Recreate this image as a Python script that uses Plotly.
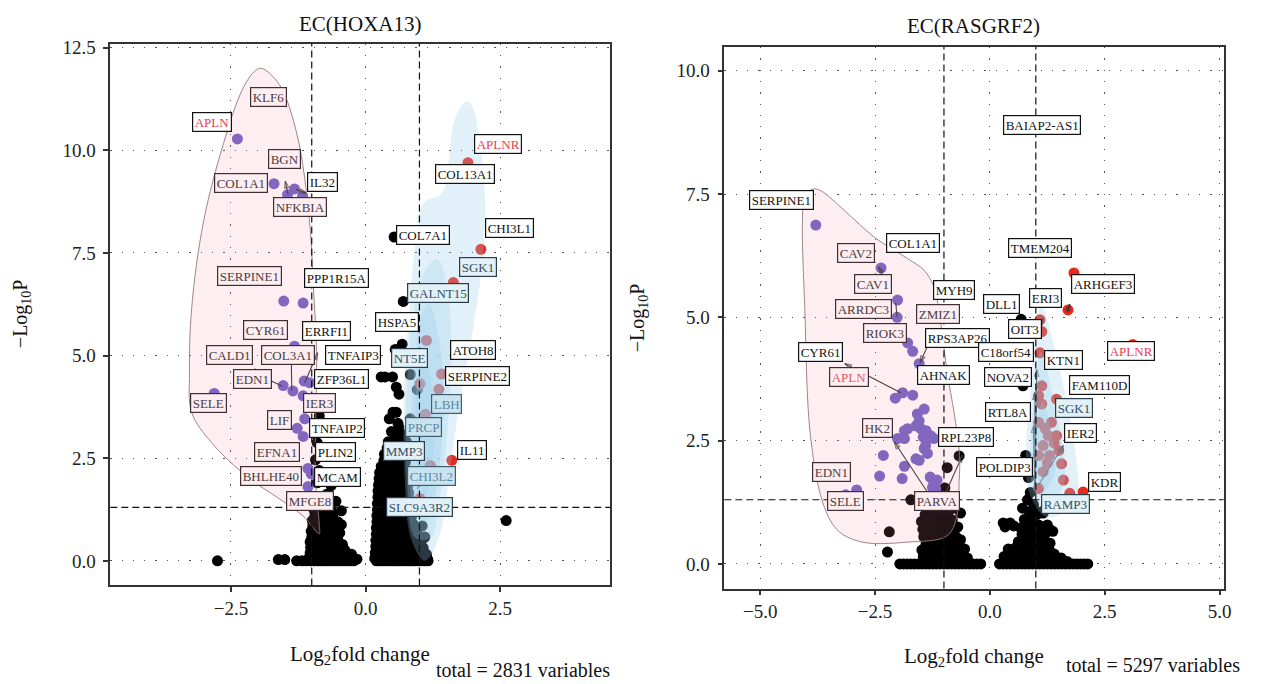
import plotly.graph_objects as go

# ---------------- DATA : panel 1  EC(HOXA13) ----------------
p1_title = "EC(HOXA13)"
p1_total = 2831
p1_x_ticks = [-2.5, 0.0, 2.5]
p1_y_ticks = [0.0, 2.5, 5.0, 7.5, 10.0, 12.5]

p1_down_x = [-2.38, -1.80, -1.50, -1.70, -1.45, -1.32, -1.17, -1.52, -1.16, -1.32, -2.81, -1.53, -1.35, -1.14,
             -1.04, -1.16, -1.13, -1.27, -1.16, -1.07, -1.01, -1.07]
p1_down_y = [10.28, 11.25, 9.75, 9.19, 8.92, 9.06, 8.89, 6.33, 6.28, 5.23, 4.08, 4.27, 4.14, 4.38,
             4.34, 4.02, 3.46, 3.23, 3.03, 2.25, 2.12, 1.81]

p1_up_x = [1.90, 2.14, 1.63, 1.13, 1.41, 1.01, 1.36, 1.11, 1.60, 1.20, 1.01]
p1_up_y = [9.70, 7.59, 6.78, 5.37, 4.55, 4.32, 4.18, 3.57, 2.45, 2.32, 1.52]

p1_ns_x = [-2.75, -1.62, -1.50, -1.28, -1.18, -1.10, -1.02, -0.95, -0.88, -0.82, -0.76, -0.70, -0.64, -0.58,
           -0.52, -0.46, -0.40, -0.34, -0.28, -0.22, 0.20, 0.26, 0.32, 0.38, 0.44, 0.50, 0.56, 0.62, 0.68,
           0.74, 0.80, 0.86, 0.92, 0.98, 1.04, 1.10, 1.16,
           -1.05, -0.98, -0.91, -0.84, -0.77, -0.71, -0.63, -0.56, -0.49, -0.42, -0.35, -0.28, -0.21, -0.16,
           -1.03, -0.95, -0.87, -0.80, -0.72, -0.64, -0.57, -0.49, -0.41, -0.33, -0.26,
           -1.02, -0.94, -0.86, -0.79, -0.70, -0.62, -0.55, -0.46, -0.39,
           -1.03, -0.96, -0.88, -0.81, -0.73, -0.65, -0.57, -0.50, -0.43,
           -1.00, -0.93, -0.84, -0.76, -0.69, -0.60, -0.52,
           -1.01, -0.93, -0.85, -0.78, -0.70, -0.62, -0.55, -0.48,
           -0.98, -0.90, -0.83, -0.74, -0.66, -0.58,
           -0.99, -0.91, -0.83, -0.75, -0.67, -0.59, -0.51,
           -0.94, -0.86, -0.77, -0.70, -0.61,
           -0.96, -0.88, -0.80, -0.72, -0.64,
           -0.92, -0.82, -0.72, -0.62, -0.52, -0.45,
           -0.90, -0.78, -0.66, -0.55, -0.84, -0.72, -0.64, -0.90, -0.86, -0.93, -0.90, -0.86, -0.80, -0.95,
           -0.45,
           0.17, 0.24, 0.31, 0.38, 0.45, 0.52, 0.59, 0.66, 0.73, 0.80, 0.87, 0.94, 1.01, 1.08, 1.15,
           0.18, 0.26, 0.34, 0.42, 0.50, 0.58, 0.66, 0.74, 0.82, 0.90, 0.98, 1.06, 1.13,
           0.19, 0.27, 0.35, 0.43, 0.51, 0.59, 0.67, 0.75, 0.83, 0.91, 0.99, 1.07,
           0.19, 0.27, 0.35, 0.43, 0.51, 0.59, 0.67, 0.75, 0.83, 0.93, 1.03,
           0.20, 0.28, 0.36, 0.44, 0.52, 0.60, 0.68, 0.76, 0.86, 0.98, 1.10,
           0.20, 0.28, 0.36, 0.44, 0.52, 0.60, 0.68, 0.76, 0.84, 0.95,
           0.21, 0.29, 0.37, 0.45, 0.53, 0.61, 0.69, 0.78, 0.88, 1.05,
           0.21, 0.29, 0.37, 0.45, 0.53, 0.61, 0.69, 0.77, 0.85,
           0.22, 0.30, 0.38, 0.46, 0.54, 0.62, 0.70, 0.80,
           0.22, 0.30, 0.38, 0.46, 0.54, 0.62, 0.70, 0.79,
           0.23, 0.31, 0.39, 0.47, 0.55, 0.63, 0.71, 0.82,
           0.23, 0.31, 0.39, 0.47, 0.55, 0.63, 0.71, 0.80,
           0.24, 0.33, 0.42, 0.51, 0.60, 0.69, 0.78,
           0.25, 0.33, 0.41, 0.49, 0.57, 0.65, 0.73,
           0.26, 0.35, 0.44, 0.53, 0.62, 0.71,
           0.29, 0.38, 0.47, 0.56, 0.65, 0.72,
           0.34, 0.44, 0.54, 0.64, 0.74,
           0.35, 0.45, 0.55, 0.65, 0.72,
           0.40, 0.50, 0.60, 0.70,
           0.42, 0.52, 0.62, 0.48, 0.58, 0.66,
           0.44, 0.51, 0.57, 0.60, 0.83, 0.76, 0.68, 0.62,
           0.62, 0.57, 0.29, 0.36, 0.50, 0.83, 0.96, 0.55, 0.68, 0.70, 0.53, 2.61]
p1_ns_y = [0.00, 0.03, 0.03, 0.00, 0.00, 0.00, 0.00, 0.00, 0.00, 0.00, 0.00, 0.00, 0.00, 0.00,
           0.00, 0.00, 0.00, 0.00, 0.00, 0.00, 0.00, 0.00, 0.00, 0.00, 0.00, 0.00, 0.00, 0.00, 0.00,
           0.00, 0.00, 0.00, 0.00, 0.00, 0.00, 0.00, 0.00,
           0.07, 0.05, 0.08, 0.06, 0.09, 0.05, 0.07, 0.06, 0.08, 0.05, 0.07, 0.06, 0.05, 0.04,
           0.20, 0.22, 0.19, 0.21, 0.18, 0.22, 0.20, 0.19, 0.21, 0.18, 0.16,
           0.33, 0.30, 0.35, 0.31, 0.34, 0.29, 0.33, 0.30, 0.27,
           0.46, 0.44, 0.48, 0.45, 0.47, 0.43, 0.46, 0.44, 0.40,
           0.58, 0.61, 0.56, 0.60, 0.57, 0.62, 0.55,
           0.72, 0.70, 0.74, 0.71, 0.73, 0.69, 0.72, 0.68,
           0.85, 0.88, 0.83, 0.87, 0.84, 0.80,
           0.98, 0.96, 1.00, 0.97, 0.99, 0.95, 0.94,
           1.12, 1.10, 1.15, 1.08, 1.13,
           1.25, 1.23, 1.27, 1.24, 1.22,
           1.00, 1.05, 0.98, 1.10, 0.95, 1.22,
           1.28, 1.35, 1.30, 1.45, 1.55, 1.62, 1.83, 1.90, 2.20, 2.46, 2.88, 3.53, 2.60, 3.10,
           0.88,
           0.06, 0.05, 0.07, 0.06, 0.08, 0.05, 0.07, 0.06, 0.05, 0.08, 0.06, 0.07, 0.05, 0.06, 0.04,
           0.20, 0.22, 0.19, 0.21, 0.18, 0.22, 0.20, 0.19, 0.21, 0.18, 0.20, 0.17, 0.16,
           0.35, 0.33, 0.37, 0.34, 0.36, 0.32, 0.35, 0.38, 0.33, 0.36, 0.34, 0.31,
           0.50, 0.52, 0.49, 0.51, 0.48, 0.52, 0.50, 0.49, 0.51, 0.47, 0.45,
           0.65, 0.63, 0.67, 0.64, 0.66, 0.62, 0.68, 0.64, 0.66, 0.60, 0.58,
           0.80, 0.82, 0.79, 0.81, 0.78, 0.82, 0.80, 0.79, 0.81, 0.76,
           0.95, 0.93, 0.97, 0.94, 0.96, 0.92, 0.98, 0.95, 0.90, 0.85,
           1.10, 1.12, 1.09, 1.11, 1.08, 1.12, 1.10, 1.09, 1.07,
           1.25, 1.23, 1.27, 1.24, 1.26, 1.22, 1.28, 1.20,
           1.40, 1.42, 1.39, 1.41, 1.38, 1.42, 1.40, 1.37,
           1.55, 1.53, 1.57, 1.54, 1.56, 1.52, 1.58, 1.50,
           1.70, 1.72, 1.69, 1.71, 1.68, 1.72, 1.70, 1.66,
           1.85, 1.83, 1.87, 1.84, 1.86, 1.82, 1.80,
           2.00, 2.02, 1.99, 2.01, 1.98, 2.02, 1.97,
           2.15, 2.13, 2.17, 2.14, 2.16, 2.10,
           2.30, 2.32, 2.29, 2.31, 2.28, 2.26,
           2.45, 2.43, 2.47, 2.44, 2.40,
           2.60, 2.62, 2.59, 2.61, 2.57,
           2.75, 2.73, 2.77, 2.70,
           2.90, 2.92, 2.89, 3.15, 3.13, 3.10,
           3.46, 3.62, 3.62, 3.35, 3.46, 2.90, 3.05, 3.25,
           4.06, 4.23, 4.48, 4.48, 4.48, 4.54, 4.17, 5.15, 5.28, 6.32, 7.89, 0.98]

p1_label_names = ["KLF6", "APLN", "BGN", "COL1A1", "IL32", "NFKBIA", "COL7A1", "CHI3L1", "COL13A1", "APLNR",
                  "SGK1", "SERPINE1", "PPP1R15A", "GALNT15", "HSPA5", "CYR61", "ERRFI1", "ATOH8", "CALD1",
                  "COL3A1", "TNFAIP3", "NT5E", "SERPINE2", "EDN1", "ZFP36L1", "SELE", "IER3", "LBH", "LIF",
                  "TNFAIP2", "PRCP", "EFNA1", "PLIN2", "MMP3", "IL11", "BHLHE40", "MCAM", "CHI3L2", "MFGE8",
                  "SLC9A3R2"]

# ---------------- DATA : panel 2  EC(RASGRF2) ----------------
p2_title = "EC(RASGRF2)"
p2_total = 5297
p2_x_ticks = [-5.0, -2.5, 0.0, 2.5, 5.0]
p2_y_ticks = [0.0, 2.5, 5.0, 7.5, 10.0]

p2_down_x = [-3.79, -2.37, -2.01, -2.02, -1.79, -1.68, -1.54, -1.90, -2.06, -1.68, -1.43, -1.58,
             -1.54, -1.61, -1.79, -1.86, -1.50, -1.39, -1.45, -1.36, -1.29, -1.22, -1.40, -1.43, -1.86,
             -2.01, -1.36, -1.61, -1.54, -2.32, -1.86, -2.40, -1.91, -2.90, -1.30, -1.22, -1.25, -1.15,
             -1.18, -3.14, -3.45]
p2_down_y = [6.87, 6.00, 5.35, 5.00, 4.48, 4.31, 4.06, 3.47, 3.36, 3.42, 3.14, 3.04,
             2.90, 2.80, 2.74, 2.70, 2.74, 2.70, 2.57, 2.54, 2.60, 2.54, 2.40, 2.34, 2.54,
             2.54, 2.24, 2.13, 2.10, 2.20, 1.98, 1.78, 1.73, 1.50, 1.76, 1.65, 1.55, 1.70,
             1.52, 1.40, 1.86]

p2_up_x = [1.16, 1.83, 1.70, 1.09, 1.13, 1.09, 3.11, 1.13, 1.06, 1.13, 1.45, 1.34, 1.06, 1.27, 1.45,
           1.16, 1.56, 1.06, 1.16, 1.60, 1.74, 2.03, 1.06, 1.30, 1.40, 1.20, 1.50, 1.25]
p2_up_y = [8.99, 5.90, 5.15, 4.95, 4.71, 4.28, 4.45, 3.61, 3.41, 3.24, 3.34, 2.87, 2.87, 2.60, 2.60,
           2.40, 2.03, 2.20, 1.87, 1.70, 1.43, 1.46, 1.53, 2.20, 2.45, 2.75, 2.30, 2.05]

p2_ns_x = [-1.96, -1.88, -1.80, -1.72, -1.64, -1.56, -1.48, -1.40, -1.32, -1.24, -1.16, -1.08, -1.00, -0.92,
           -0.84, -0.76, -0.68, -0.60, -0.52, -0.44, -0.36, -0.28, -0.20,
           0.21, 0.29, 0.37, 0.45, 0.53, 0.61, 0.69, 0.77, 0.85, 0.93, 1.01, 1.09, 1.17, 1.25, 1.33, 1.41,
           1.49, 1.57, 1.65, 1.73, 1.81, 1.89, 1.97, 2.05, 2.13,
           -2.19, -2.23, -1.72, -1.41, -1.03, -0.95, -0.80, -0.64, -1.49, -1.41, -1.26, -1.10, -0.95, -0.80,
           -0.64, -0.91, -1.22, -1.03, -0.80, -0.49, -1.41, -1.26, -1.03, -1.15, -1.30, -1.10, -0.70, -0.55,
           -1.35, -1.20, -0.85, -1.15, -0.98, -0.93, -0.67, -0.85,
           -1.45, -1.31, -1.16, -1.01, -0.86, -0.71, -0.60,
           -1.48, -1.36, -1.22, -1.08, -0.94, -0.80, -0.66,
           -1.39, -1.24, -1.09, -0.96, -0.81, -0.68,
           -1.44, -1.30, -1.16, -1.02, -0.88, -0.74,
           -1.46, -1.29, -1.14, -1.00, -0.86, -0.73,
           -1.38, -1.24, -1.10, -0.96, -0.82,
           -1.34, -1.19, -1.06, -0.90,
           0.29, 0.44, 0.71, 0.67, 0.90, 1.06, 1.25, 1.37, 0.60, 1.29, 1.68, 0.98, 0.83, 1.02, 1.14, 0.80,
           0.75, 1.15, 1.40, 0.50, 0.95, 0.88, 0.84, 0.80, 0.78, 0.82, 1.10, 1.20, 0.90, 1.50, 0.72, 0.68,
           0.31, 0.46, 0.61, 0.76, 0.91, 1.05, 1.21, 1.36, 1.55,
           0.40, 0.55, 0.70, 0.85, 1.00, 1.15, 1.30,
           0.62, 0.76, 0.91, 1.04, 1.19, 1.31,
           0.70, 0.85, 1.00, 1.15,
           0.33, 0.52, 0.70, 0.86, 1.01, 1.16, 1.30,
           0.86, 1.00, 1.16]
p2_ns_y = [0.00, 0.00, 0.00, 0.00, 0.00, 0.00, 0.00, 0.00, 0.00, 0.00, 0.00, 0.00, 0.00, 0.00,
           0.00, 0.00, 0.00, 0.00, 0.00, 0.00, 0.00, 0.00, 0.00,
           0.00, 0.00, 0.00, 0.00, 0.00, 0.00, 0.00, 0.00, 0.00, 0.00, 0.00, 0.00, 0.00, 0.00, 0.00, 0.00,
           0.00, 0.00, 0.00, 0.00, 0.00, 0.00, 0.00, 0.00, 0.00,
           0.65, 0.24, 1.30, 0.83, 0.86, 1.00, 1.13, 1.03, 0.86, 1.00, 0.86, 0.93, 0.73, 0.59,
           0.49, 0.46, 0.32, 0.19, 0.26, 0.12, 0.59, 0.73, 1.20, 1.10, 0.50, 0.60, 0.75, 0.30,
           0.20, 0.12, 0.38, 1.30, 1.54, 1.95, 2.19, 1.25,
           0.15, 0.17, 0.14, 0.16, 0.13, 0.18, 0.15,
           0.28, 0.30, 0.27, 0.29, 0.26, 0.30, 0.28,
           0.40, 0.42, 0.38, 0.41, 0.39, 0.43,
           0.55, 0.57, 0.54, 0.56, 0.53, 0.55,
           0.70, 0.72, 0.68, 0.71, 0.69, 0.73,
           0.90, 0.92, 0.88, 0.91, 0.89,
           1.05, 1.07, 1.03, 1.06,
           0.83, 0.83, 1.13, 0.73, 0.59, 0.79, 0.79, 0.66, 0.26, 0.26, 0.05, 0.39, 0.19, 1.00, 1.06, 0.45,
           0.90, 0.45, 0.20, 0.15, 1.20, 1.45, 1.75, 2.00, 2.20, 1.30, 0.25, 0.60, 0.90, 0.10, 3.61, 4.96,
           0.15, 0.17, 0.14, 0.16, 0.13, 0.18, 0.15, 0.14, 0.12,
           0.30, 0.32, 0.29, 0.31, 0.28, 0.30, 0.27,
           0.45, 0.47, 0.43, 0.46, 0.44, 0.42,
           0.60, 0.62, 0.59, 0.61,
           0.75, 0.77, 0.73, 0.76, 0.74, 0.72, 0.70,
           1.05, 1.07, 1.03]

p2_label_names = ["BAIAP2-AS1", "SERPINE1", "COL1A1", "TMEM204", "CAV2", "CAV1", "ARHGEF3", "MYH9", "ERI3",
                  "DLL1", "ARRDC3", "ZMIZ1", "OIT3", "RIOK3", "RPS3AP26", "CYR61", "C18orf54", "APLNR",
                  "KTN1", "APLN", "AHNAK", "NOVA2", "FAM110D", "SGK1", "RTL8A", "HK2", "IER2", "RPL23P8",
                  "POLDIP3", "EDN1", "KDR", "SELE", "PARVA", "RAMP3"]

highlight_genes = ["APLN", "APLNR"]
fc_cut = 1.0
p_cut = 1.30103  # -log10(0.05)

# ---------------- LAYOUT HELPERS (positions / styles) ----------------
FONT = "Liberation Serif"
PURPLE = "#6F61C3"
RED = "#E62A1E"
BLACK = "#000000"
MSIZE = 11

# label positions (data coords) and tint of the box
P1_LABEL_POS = {
    "KLF6": (-1.81, 11.29, "pink"), "APLN": (-2.86, 10.68, None), "BGN": (-1.50, 9.80, "pink"),
    "COL1A1": (-2.32, 9.21, "pink"), "IL32": (-0.80, 9.22, None), "NFKBIA": (-1.21, 8.62, "pink"),
    "COL7A1": (1.07, 7.93, None), "CHI3L1": (2.68, 8.10, None), "COL13A1": (1.84, 9.42, None),
    "APLNR": (2.45, 10.16, None), "SGK1": (2.09, 7.16, "blue1"), "SERPINE1": (-2.16, 6.93, "pink"),
    "PPP1R15A": (-0.54, 6.89, None), "GALNT15": (1.34, 6.53, "blue1"), "HSPA5": (0.59, 5.83, None),
    "CYR61": (-1.85, 5.62, "pink"), "ERRFI1": (-0.73, 5.59, None), "ATOH8": (2.00, 5.13, None),
    "CALD1": (-2.52, 5.01, "pink"), "COL3A1": (-1.44, 5.01, "pink"), "TNFAIP3": (-0.23, 5.01, None),
    "NT5E": (0.81, 4.94, "blue1"), "SERPINE2": (2.07, 4.51, None), "EDN1": (-2.10, 4.43, "pink"),
    "ZFP36L1": (-0.45, 4.42, None), "SELE": (-2.91, 3.85, "pink"), "IER3": (-0.86, 3.84, "pink"),
    "LBH": (1.50, 3.83, "blue2"), "LIF": (-1.59, 3.43, "pink"), "TNFAIP2": (-0.54, 3.23, None),
    "PRCP": (1.07, 3.25, "blue2"), "EFNA1": (-1.65, 2.64, "pink"), "PLIN2": (-0.56, 2.64, None),
    "MMP3": (0.71, 2.67, "blue1"), "IL11": (1.98, 2.70, None), "BHLHE40": (-1.75, 2.06, "pink"),
    "MCAM": (-0.52, 2.04, None), "CHI3L2": (1.23, 2.06, "blue2"), "MFGE8": (-1.04, 1.46, "pink"),
    "SLC9A3R2": (1.01, 1.32, "blue1"),
}
P2_LABEL_POS = {
    "BAIAP2-AS1": (1.14, 8.89, None), "SERPINE1": (-4.53, 7.38, None), "COL1A1": (-1.67, 6.50, None),
    "TMEM204": (1.09, 6.41, None), "CAV2": (-2.91, 6.31, "pink"), "CAV1": (-2.55, 5.68, "pink"),
    "ARHGEF3": (2.47, 5.68, None), "MYH9": (-0.78, 5.55, None), "ERI3": (1.22, 5.40, None),
    "DLL1": (0.26, 5.26, None), "ARRDC3": (-2.75, 5.17, "pink"), "ZMIZ1": (-1.13, 5.06, "pink"),
    "OIT3": (0.77, 4.76, None), "RIOK3": (-2.28, 4.69, "pink"), "RPS3AP26": (-0.71, 4.59, None),
    "CYR61": (-3.69, 4.30, None), "C18orf54": (0.36, 4.29, None), "APLNR": (3.07, 4.32, None),
    "KTN1": (1.60, 4.13, None), "APLN": (-3.07, 3.79, "pink"), "AHNAK": (-1.02, 3.82, None),
    "NOVA2": (0.40, 3.78, None), "FAM110D": (2.38, 3.63, None), "SGK1": (1.83, 3.16, "blue1"),
    "RTL8A": (0.40, 3.07, None), "HK2": (-2.45, 2.75, "pink"), "IER2": (1.97, 2.65, None),
    "RPL23P8": (-0.53, 2.57, None), "POLDIP3": (0.31, 1.96, None), "EDN1": (-3.45, 1.86, "pink"),
    "KDR": (2.50, 1.67, None), "SELE": (-3.14, 1.27, "pink"), "PARVA": (-1.15, 1.27, "pink"),
    "RAMP3": (1.65, 1.21, "blue1"),
}

# ggrepel segments: (tail x, tail y, head x, head y, with head)
P1_SEGMENTS = [(-1.44, 8.93, -1.49, 9.25, True), (-1.29, 9.05, -1.10, 8.95, True),
               (-1.13, 4.34, -0.89, 5.07, True), (-1.38, 4.91, -1.37, 4.14, False),
               (-1.75, 4.38, -1.55, 4.26, False), (-2.05, 4.55, -2.05, 4.68, True),
               (0.97, 1.95, 0.97, 1.75, False)]
P2_SEGMENTS = [(-2.33, 5.89, -2.43, 6.02, True), (-1.94, 3.47, -3.16, 4.06, True),
               (-1.36, 4.41, -1.52, 4.08, True), (-1.25, 1.30, -2.08, 2.47, True),
               (-1.00, 1.36, -0.60, 2.20, True), (0.95, 4.58, 1.16, 4.98, True),
               (1.06, 1.60, 1.60, 2.40, True), (0.98, 1.46, 1.02, 3.94, True),
               (0.98, 1.46, 0.98, 3.47, True), (0.98, 1.46, 0.95, 2.80, True),
               (1.68, 5.10, 1.74, 5.27, True), (-2.02, 5.00, -2.05, 5.30, False)]

# enclosing hull of down genes and density levels of up genes (outline vertices)
P1_HULL = [(-1.93, 12.0), (-1.60, 11.6), (-1.27, 10.37), (-1.04, 8.26), (-0.97, 6.68), (-0.91, 5.1),
           (-0.93, 2.99), (-0.93, 1.93), (-0.86, 0.88), (-0.86, 0.66), (-1.16, 1.09), (-1.60, 1.51),
           (-2.19, 2.04), (-2.86, 2.88), (-3.23, 3.62), (-3.27, 4.57), (-3.23, 6.15), (-3.01, 8.26),
           (-2.64, 10.16), (-2.27, 11.53), (-2.04, 11.95)]
P1_DENS = [
    [(1.88, 11.2), (1.99, 11.05), (2.10, 10.37), (2.21, 9.1), (2.18, 7.42), (1.99, 5.62), (1.77, 4.04),
     (1.59, 2.46), (1.36, 0.56), (1.10, 0.0), (0.84, 0.56), (0.73, 1.93), (0.71, 4.04), (0.81, 6.15),
     (0.92, 7.73), (0.99, 8.47), (1.14, 8.79), (1.36, 8.89), (1.47, 9.1), (1.55, 9.84), (1.66, 10.79)],
    [(1.33, 7.36), (1.51, 6.68), (1.59, 5.1), (1.51, 2.99), (1.36, 1.4), (1.21, 0.56), (0.92, 0.56),
     (0.77, 1.93), (0.76, 4.04), (0.88, 5.94), (1.07, 6.99)],
    [(1.18, 6.26), (1.40, 5.1), (1.44, 3.51), (1.33, 1.93), (1.14, 0.98), (0.92, 1.09), (0.84, 2.99),
     (0.92, 4.88), (1.03, 5.94)],
    [(1.07, 5.1), (1.25, 4.04), (1.25, 2.46), (1.10, 1.61), (0.96, 2.14), (0.92, 3.72)],
]
P2_HULL = [(-3.85, 7.60), (-3.67, 7.56), (-3.16, 7.16), (-2.51, 6.62), (-1.79, 6.19), (-1.43, 5.95),
           (-1.22, 5.62), (-1.07, 4.88), (-0.93, 3.88), (-0.78, 3.07), (-0.66, 2.20), (-0.67, 1.67),
           (-0.72, 0.96), (-0.93, 0.57), (-1.81, 0.44), (-2.77, 0.44), (-3.29, 0.66), (-3.60, 1.14),
           (-3.90, 2.54), (-4.03, 5.18), (-4.08, 6.93), (-4.03, 7.46)]
P2_DENS = [
    [(1.13, 5.22), (1.38, 4.48), (1.60, 3.61), (1.81, 2.61), (1.92, 1.60), (1.85, 1.20), (1.23, 0.95),
     (0.84, 1.50), (0.80, 2.61), (0.90, 3.61), (0.98, 4.62), (1.01, 5.02)],
    [(1.10, 4.30), (1.35, 3.50), (1.55, 2.50), (1.62, 1.65), (1.30, 1.25), (0.95, 1.55), (0.90, 2.60),
     (1.00, 3.60)],
    [(1.15, 3.30), (1.35, 2.60), (1.42, 1.90), (1.20, 1.50), (1.00, 1.90), (1.00, 2.70)],
]

TINT = {
    None: ("#FFFFFF", "#111111", "#111111"),
    "pink": ("#FCEEF1", "#4d3a3e", "#3f2f32"),
    "blue1": ("#E2F0F8", "#34505f", "#2a3e4a"),
    "blue2": ("#C9E3F1", "#5a88a2", "#3c5e70"),
}

fig = go.Figure()


def add_segments(segs, xr, yr):
    for tx, ty, hx, hy, head in segs:
        fig.add_trace(go.Scatter(
            x=[tx, hx], y=[ty, hy], xaxis=xr, yaxis=yr, mode="lines+markers" if head else "lines",
            line=dict(color="#333333", width=1.1),
            marker=dict(symbol=["circle", "arrow-open"], size=[0, 7], angleref="previous",
                        color="#333333", line=dict(color="#333333", width=1.1)),
            showlegend=False, hoverinfo="skip"))


def add_panel(xr, yr, ns_x, ns_y, dn_x, dn_y, up_x, up_y, segs, hull, dens):
    fig.add_trace(go.Scatter(x=ns_x, y=ns_y, mode="markers", xaxis=xr, yaxis=yr,
                             marker=dict(color=BLACK, size=MSIZE, line=dict(width=0)), showlegend=False))
    fig.add_trace(go.Scatter(x=dn_x, y=dn_y, mode="markers", xaxis=xr, yaxis=yr,
                             marker=dict(color=PURPLE, size=MSIZE, line=dict(width=0)), showlegend=False))
    fig.add_trace(go.Scatter(x=up_x, y=up_y, mode="markers", xaxis=xr, yaxis=yr,
                             marker=dict(color=RED, size=MSIZE, line=dict(width=0)), showlegend=False))
    add_segments(segs, xr, yr)
    hx = [p[0] for p in hull] + [hull[0][0]]
    hy = [p[1] for p in hull] + [hull[0][1]]
    fig.add_trace(go.Scatter(x=hx, y=hy, mode="lines", xaxis=xr, yaxis=yr, fill="toself",
                             fillcolor="rgba(240,140,165,0.15)",
                             line=dict(color="rgba(150,120,125,0.9)", width=1, shape="spline", smoothing=1),
                             showlegend=False, hoverinfo="skip"))
    for lev in dens:
        dx = [p[0] for p in lev] + [lev[0][0]]
        dy = [p[1] for p in lev] + [lev[0][1]]
        fig.add_trace(go.Scatter(x=dx, y=dy, mode="lines", xaxis=xr, yaxis=yr, fill="toself",
                                 fillcolor="rgba(150,205,235,0.28)",
                                 line=dict(color="rgba(0,0,0,0)", width=0, shape="spline", smoothing=1),
                                 showlegend=False, hoverinfo="skip"))


add_panel("x", "y", p1_ns_x, p1_ns_y, p1_down_x, p1_down_y, p1_up_x, p1_up_y, P1_SEGMENTS, P1_HULL, P1_DENS)
add_panel("x2", "y2", p2_ns_x, p2_ns_y, p2_down_x, p2_down_y, p2_up_x, p2_up_y, P2_SEGMENTS, P2_HULL, P2_DENS)

annotations = []


def add_labels(names, pos, xr, yr):
    for n in names:
        x, y, tint = pos[n]
        bg, fg, bd = TINT[tint]
        if n in highlight_genes:
            fg = "#EE3A50" if tint is None else "#E8576A"
        annotations.append(dict(x=x, y=y, xref=xr, yref=yr, text=n, showarrow=False,
                                font=dict(family=FONT, size=13, color=fg), bgcolor=bg,
                                bordercolor=bd, borderwidth=1.2, borderpad=1.5,
                                xanchor="center", yanchor="middle"))


add_labels(p1_label_names, P1_LABEL_POS, "x", "y")
add_labels(p2_label_names, P2_LABEL_POS, "x2", "y2")

W, H = 1263, 684


def txt(text, px, py, size, angle=0, xanchor="center"):
    annotations.append(dict(x=px / W, y=1 - py / H, xref="paper", yref="paper", text=text,
                            showarrow=False, textangle=angle, xanchor=xanchor, yanchor="middle",
                            font=dict(family=FONT, size=size, color="#111111")))


txt(p1_title, 362, 18, 21)
txt(p2_title, 980, 20, 21)
txt("Log<sub>2</sub>fold change", 362, 655, 21)
txt("Log<sub>2</sub>fold change", 980, 657, 21)
txt("\u2212Log<sub>10</sub>P", 21, 310, 20, angle=-90)
txt("\u2212Log<sub>10</sub>P", 642, 314, 20, angle=-90)
txt(f"total = {p1_total} variables", 616, 670, 20, xanchor="right")
txt(f"total = {p2_total} variables", 1250, 665, 20, xanchor="right")

# threshold dashed lines
shapes = []
for xr, yr in (("x", "y"), ("x2", "y2")):
    for xv in (-fc_cut, fc_cut):
        shapes.append(dict(type="line", xref=xr, yref=f"{yr} domain", x0=xv, x1=xv, y0=0, y1=1,
                           line=dict(color="#111111", width=1.2, dash="7px,4px"), layer="above"))
    shapes.append(dict(type="line", xref=f"{xr} domain", yref=yr, x0=0, x1=1, y0=p_cut, y1=p_cut,
                       line=dict(color="#111111", width=1.2, dash="7px,4px"), layer="above"))


def fmt(v):
    return f"{v:.1f}".replace("-", "\u2212")


axis_common = dict(showgrid=True, gridcolor="#555555", gridwidth=1.3, griddash="1.3px,10px",
                   zeroline=False, showline=True, mirror=True, linecolor="#333333", linewidth=1.6,
                   ticks="outside", ticklen=5, tickwidth=1.6, tickcolor="#333333",
                   tickfont=dict(family=FONT, size=19, color="#222222"))

fig.update_layout(
    width=W, height=H, margin=dict(l=0, r=0, t=0, b=0),
    paper_bgcolor="white", plot_bgcolor="white", showlegend=False,
    xaxis=dict(domain=[111 / W, 614 / W], range=[-4.74, 4.54], tickvals=p1_x_ticks,
               ticktext=[fmt(v) for v in p1_x_ticks], anchor="y", **axis_common),
    yaxis=dict(domain=[1 - 584.6 / H, 1 - 38 / H], range=[-0.6, 12.6], tickvals=p1_y_ticks,
               ticktext=[fmt(v) for v in p1_y_ticks], anchor="x", ticklabelstandoff=4, **axis_common),
    xaxis2=dict(domain=[729 / W, 1231.5 / W], range=[-5.78, 5.09], tickvals=p2_x_ticks,
                ticktext=[fmt(v) for v in p2_x_ticks], anchor="y2", **axis_common),
    yaxis2=dict(domain=[1 - 587.7 / H, 1 - 41.4 / H], range=[-0.5, 10.48], tickvals=p2_y_ticks,
                ticktext=[fmt(v) for v in p2_y_ticks], anchor="x2", ticklabelstandoff=4, **axis_common),
    annotations=annotations, shapes=shapes,
)

fig.write_html("out.html", post_script="document.body.style.margin='0px';",
               config={"displayModeBar": False})
